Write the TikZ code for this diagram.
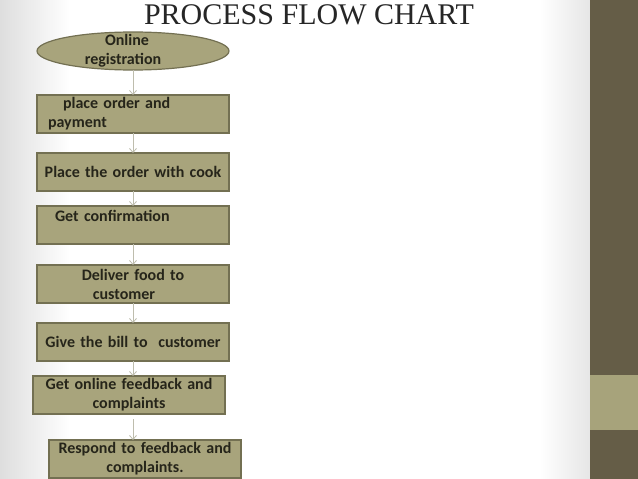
\documentclass[tikz,border=0pt]{standalone}
\usepackage{fontspec}
\setmainfont{Carlito}
\newfontfamily\titlefont{Liberation Serif}
\usepackage{xcolor}
\usepackage{tikz}
\usetikzlibrary{shapes.geometric, arrows.meta, positioning}

\definecolor{boxfill}{HTML}{A8A47C}
\definecolor{boxline}{HTML}{737052}
\definecolor{boxtext}{HTML}{26251A}
\definecolor{arrowline}{HTML}{BEBDAD}
\definecolor{bardark}{HTML}{655D47}
\definecolor{barlight}{HTML}{A7A37B}

\begin{document}
\begin{tikzpicture}[
    x=1pt, y=-1pt,
    node distance=20pt,
    every node/.style={font=\fontsize{16}{19}\selectfont\bfseries, text=boxtext, outer sep=0pt},
    startstop/.style={ellipse, minimum width=192pt, minimum height=38pt, inner xsep=0pt, inner ysep=-5pt, align=center, draw=boxline, line width=1.2pt, fill=boxfill},
    process/.style={rectangle, minimum width=192pt, minimum height=38pt, text width=184pt, inner xsep=4pt, inner ysep=0pt, align=center, draw=boxline, line width=1.2pt, fill=boxfill},
    arrow/.style={draw=arrowline, line width=0.8pt, -{Straight Barb[length=4pt, width=7pt]}}
]

% slide background
\useasboundingbox (0,0) rectangle (638,479);
\fill[white] (0,0) rectangle (638,479);
\shade[left color=black!13, right color=white] (0,0) rectangle (70,479);
\shade[left color=white, right color=black!10] (540,0) rectangle (590,479);
\fill[bardark] (590,0) rectangle (638,479);
\fill[barlight] (590,375) rectangle (638,430);

\node (title) [anchor=base, inner sep=0pt, font=\titlefont\fontsize{30}{36}\selectfont, text=black!85] at (309,24) {PROCESS FLOW CHART};

\node (start) [startstop] at (133,51) {Online\hspace*{12pt}\\registration\hspace*{20pt}};
\node (b1) [process, below=25pt of start, align=left, text width=170pt, inner xsep=11pt] {\hspace*{15pt}place order and\\payment};
\node (b2) [process, below=20pt of b1] {Place the order with cook};
\node (b3) [process, below=15pt of b2, align=left, text width=174pt, inner xsep=9pt] {\hspace*{9pt}Get confirmation\\\mbox{}};
\node (b4) [process, below=21pt of b3] {Deliver food to\hspace*{14pt}\\customer\hspace*{18pt}};
\node (b5) [process, below=20pt of b4] {Give the bill to\ \ customer};
\node (b6) [process, below=15pt of b5, xshift=-4pt] {Get online feedback and\\complaints};
\node (b7) [process, below=26pt of b6, xshift=16pt] {Respond to feedback and\\complaints.};

\coordinate (axis) at (start.south);

\draw [arrow] (start) -- (b1);
\draw [arrow] (b1) -- (b2);
\draw [arrow] (b2) -- (b3);
\draw [arrow] (b3) -- (b4);
\draw [arrow] (b4) -- (b5);
\draw [arrow] (b5) -- (b5 |- b6.north);
\draw [arrow, shorten <=5pt] (b6.south -| axis) -- (b7.north -| axis);

\end{tikzpicture}
\end{document}
